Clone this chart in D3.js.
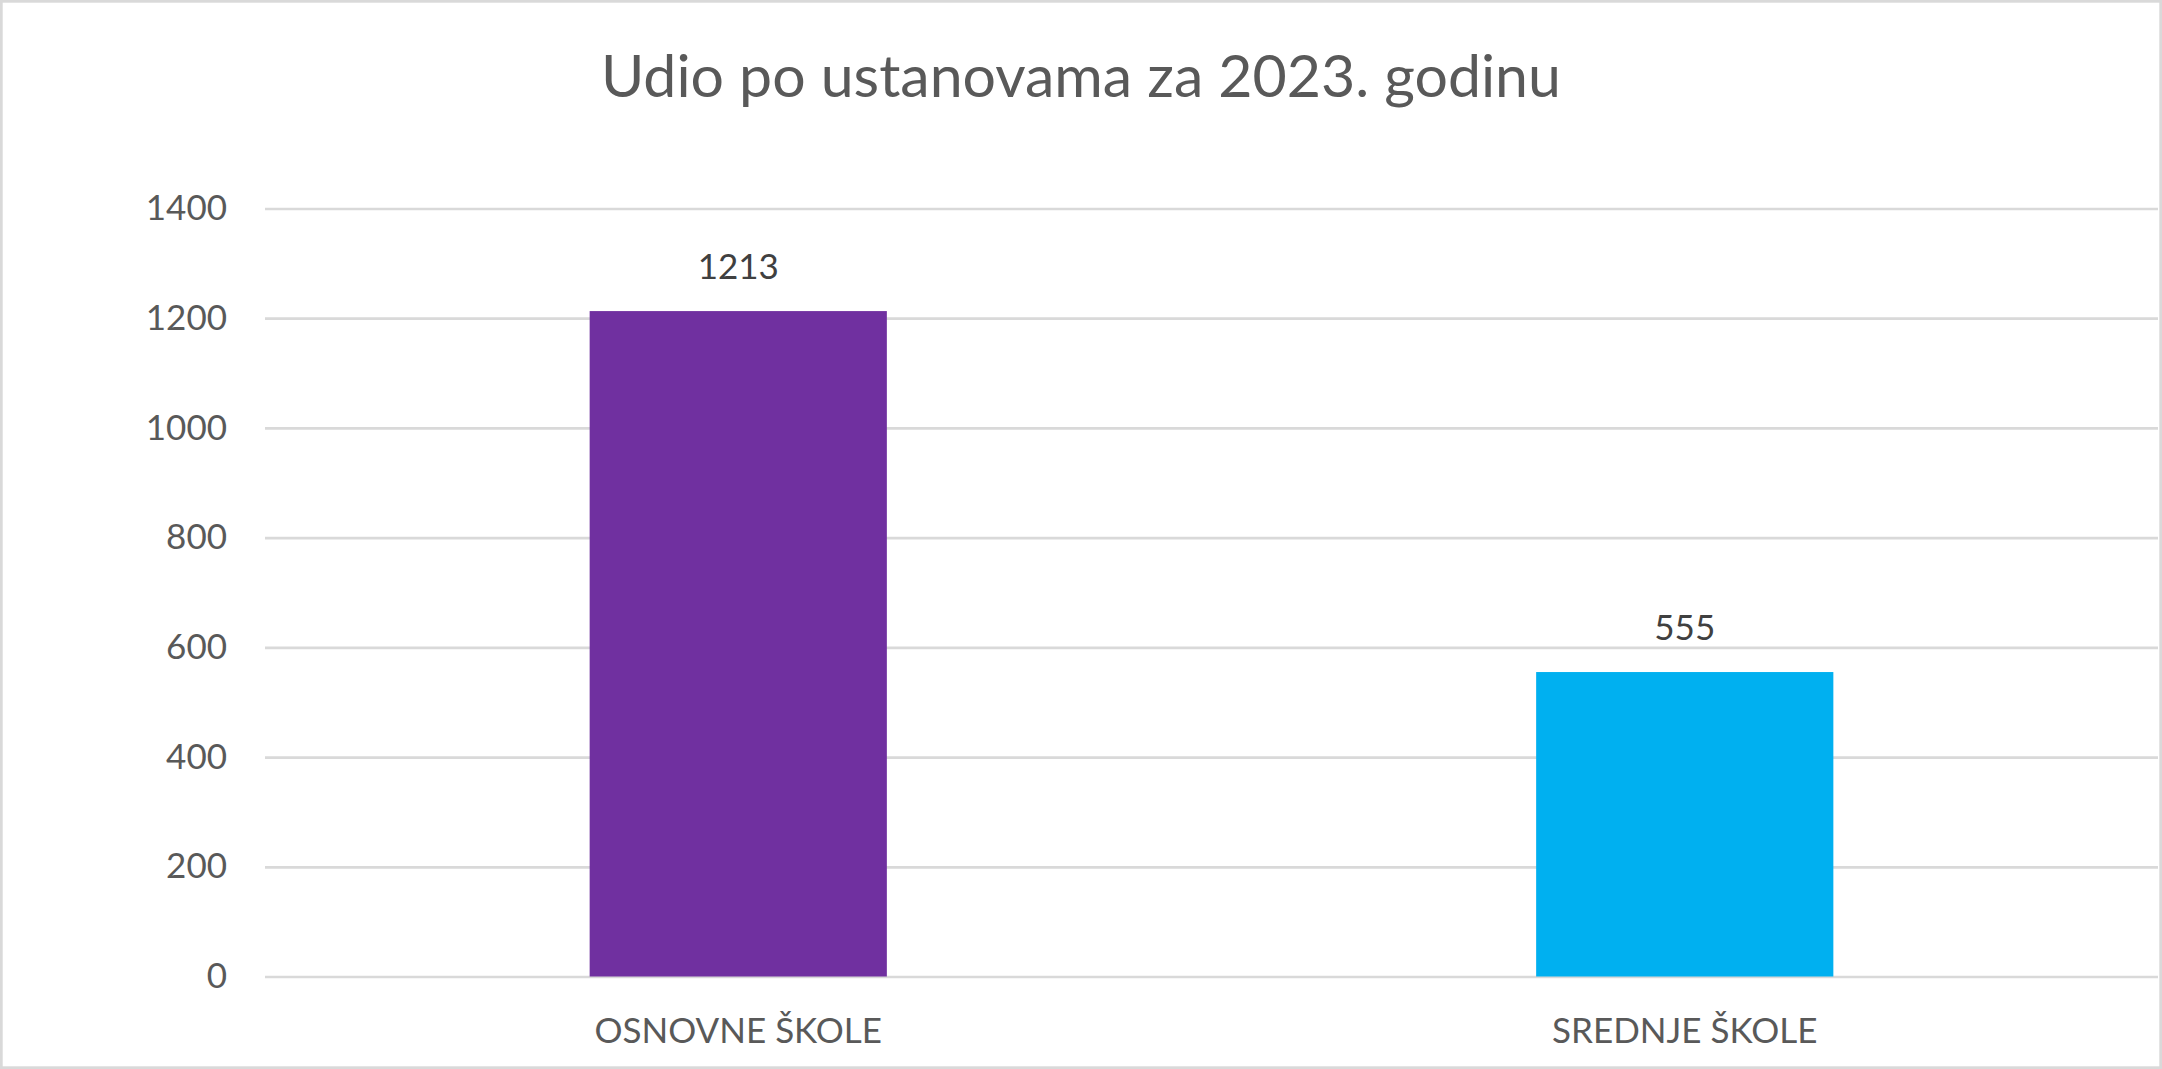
<!DOCTYPE html>
<html>
<head>
<meta charset="utf-8">
<title>Udio po ustanovama za 2023. godinu</title>
<script src="https://cdn.jsdelivr.net/npm/d3@7"></script>
<style>
	html, body { margin: 0; padding: 0; background: #ffffff; }
	svg { display: block; font-family: Lato, "Noto Sans", sans-serif; }
	.axis-label { fill: #595959; font-size: 35px; font-family: Lato, "Noto Sans", sans-serif; }
	.value-label { fill: #404040; font-size: 35px; }
	.title { fill: #595959; font-size: 59px; }
</style>
</head>
<body>
<div id="chart"></div>
<script>

// chart data
const chartTitle = "Udio po ustanovama za 2023. godinu";
const categories = ["OSNOVNE ŠKOLE", "SREDNJE ŠKOLE"];
const counts = [1213, 555];
const yTicks = [0, 200, 400, 600, 800, 1000, 1200, 1400];

const barColors = ["#7030A0", "#00B0F0"];

class BarChart {

	constructor(parentElement) {
		this._parentElement = parentElement;
		this._displayData = categories.map((c, i) => ({ category: c, value: counts[i] }));
	}

	initVis() {
		let vis = this;

		vis.outerWidth = 2162;
		vis.outerHeight = 1069;
		vis.margin = { top: 208.5, right: 4, bottom: 92.5, left: 265 };
		vis.width = vis.outerWidth - vis.margin.left - vis.margin.right;
		vis.height = vis.outerHeight - vis.margin.top - vis.margin.bottom;

		vis.root = d3.select("#" + vis._parentElement).append("svg")
			.attr("width", vis.outerWidth)
			.attr("height", vis.outerHeight);

		// chart frame
		vis.root.append("rect")
			.attr("x", 1.35)
			.attr("y", 1.35)
			.attr("width", vis.outerWidth - 2.7)
			.attr("height", vis.outerHeight - 2.7)
			.attr("fill", "#ffffff")
			.attr("stroke", "#d9d9d9")
			.attr("stroke-width", 2.7);

		vis.root.append("text")
			.attr("class", "title")
			.attr("x", vis.outerWidth / 2)
			.attr("y", 97)
			.attr("text-anchor", "middle")
			.text(chartTitle);

		vis.svg = vis.root.append("g")
			.attr("transform", "translate(" + vis.margin.left + "," + vis.margin.top + ")");

		// Scales
		vis.x = d3.scaleBand()
			.domain(categories)
			.range([0, vis.width])
			.paddingInner(0.686)
			.paddingOuter(0.343);

		vis.y = d3.scaleLinear()
			.domain([0, 1400])
			.range([vis.height, 0]);

		// gridlines
		vis.svg.append("g")
			.attr("class", "grid")
			.call(d3.axisLeft(vis.y).tickValues(yTicks).tickSize(-vis.width).tickFormat(""))
			.call(g => g.select(".domain").remove())
			.selectAll("line")
			.attr("stroke", "#d9d9d9")
			.attr("stroke-width", 2.7);

		// y labels
		vis.svg.append("g")
			.attr("class", "y-axis")
			.attr("transform", "translate(-38,0)")
			.call(d3.axisLeft(vis.y).tickValues(yTicks).tickFormat(d3.format("d")).tickSize(0).tickPadding(0))
			.attr("font-family", null)
			.attr("font-size", null)
			.call(g => g.select(".domain").remove())
			.selectAll("text")
			.attr("class", "axis-label")
			.attr("fill", null);

		// bars
		vis.svg.selectAll(".bar")
			.data(vis._displayData)
			.enter().append("rect")
			.attr("class", "bar")
			.attr("x", d => vis.x(d.category))
			.attr("y", d => vis.y(d.value))
			.attr("width", vis.x.bandwidth())
			.attr("height", d => vis.height - vis.y(d.value))
			.attr("fill", (d, i) => barColors[i]);

		// value labels
		vis.svg.selectAll(".value-label")
			.data(vis._displayData)
			.enter().append("text")
			.attr("class", "value-label")
			.attr("x", d => vis.x(d.category) + vis.x.bandwidth() / 2)
			.attr("y", d => vis.y(d.value) - 32)
			.attr("text-anchor", "middle")
			.text(d => d.value);

		// x labels
		vis.svg.append("g")
			.attr("class", "x-axis")
			.attr("transform", "translate(0," + vis.height + ")")
			.call(d3.axisBottom(vis.x).tickSize(0).tickPadding(0))
			.attr("font-family", null)
			.attr("font-size", null)
			.call(g => g.select(".domain").remove())
			.selectAll("text")
			.attr("class", "axis-label")
			.attr("fill", null)
			.attr("dy", null)
			.attr("y", 66.5);
	}
}

let chart = new BarChart("chart");
chart.initVis();

</script>
</body>
</html>
